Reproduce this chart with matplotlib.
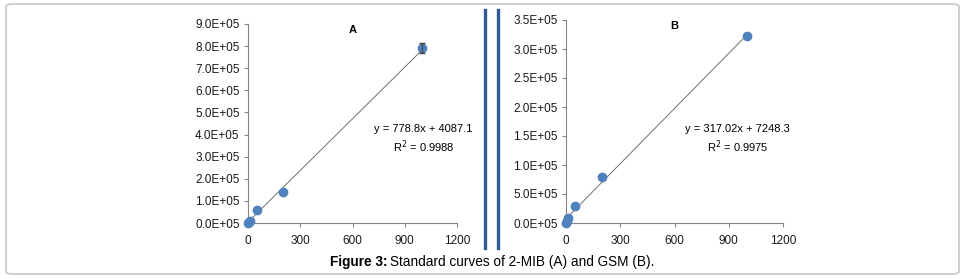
import matplotlib.pyplot as plt
import numpy as np
from matplotlib.patches import FancyBboxPatch

plt.rcParams["font.family"] = ["Liberation Sans", "DejaVu Sans"]

# panel A: 2-MIB
conc_a = [0, 5, 10, 50, 200, 1000]
area_a = [2000, 4000, 8000, 60000, 140000, 790000]
err_a = [0, 0, 0, 0, 0, 22000]
fit_a = [778.8, 4087.1]
r2_a = 0.9988
yticks_a = [0, 1e5, 2e5, 3e5, 4e5, 5e5, 6e5, 7e5, 8e5, 9e5]
ylabels_a = ["0.0E+05", "1.0E+05", "2.0E+05", "3.0E+05", "4.0E+05",
             "5.0E+05", "6.0E+05", "7.0E+05", "8.0E+05", "9.0E+05"]

# panel B: GSM (label for 50000 reads 5.0E+05 in the original)
conc_b = [0, 5, 10, 50, 200, 1000]
area_b = [0, 3000, 8000, 30000, 80000, 322000]
fit_b = [317.02, 7248.3]
r2_b = 0.9975
yticks_b = [0, 0.5e5, 1e5, 1.5e5, 2e5, 2.5e5, 3e5, 3.5e5]
ylabels_b = ["0.0E+05", "5.0E+05", "1.0E+05", "1.5E+05", "2.0E+05",
             "2.5E+05", "3.0E+05", "3.5E+05"]

xticks = [0, 300, 600, 900, 1200]
dot_color = "#4F81BD"
axis_gray = "#868686"

W, H = 966, 279
fig = plt.figure(figsize=(W / 100, H / 100), dpi=100)


def px_axes(x0, x1, ytop, ybot):
    return fig.add_axes([x0 / W, 1 - ybot / H, (x1 - x0) / W, (ybot - ytop) / H])


def style(ax, yticks, ylabels):
    ax.set_xlim(0, 1200)
    ax.set_ylim(0, yticks[-1])
    ax.set_xticks(xticks)
    ax.set_xticklabels([str(t) for t in xticks])
    ax.set_yticks(yticks)
    ax.set_yticklabels(ylabels)
    for s in ["top", "right"]:
        ax.spines[s].set_visible(False)
    for s in ["left", "bottom"]:
        ax.spines[s].set_color(axis_gray)
        ax.spines[s].set_linewidth(0.8)
    ax.tick_params(colors=axis_gray, labelcolor="#1a1a1a", labelsize=8.5,
                   length=3, width=0.8, pad=3)
    ax.tick_params(axis="x", pad=6)
    ax.patch.set_alpha(0)


def panel(ax, x, y, fit, r2, label, eq_xy, err=None):
    xs = np.array([0, 1000])
    ax.plot(xs, fit[0] * xs + fit[1], color="#707070", lw=0.7, zorder=3)
    ax.plot(x, y, "o", color=dot_color, ms=6, mec=dot_color, clip_on=False, zorder=4)
    if err is not None:
        e = np.array(err)
        keep = e > 0
        ax.errorbar(np.array(x)[keep], np.array(y)[keep], yerr=e[keep], fmt="none",
                    ecolor="#404040", elinewidth=0.8, capsize=2.5, capthick=1.0,
                    zorder=5)
    ax.text(0.5, 0.97, label, transform=ax.transAxes, ha="center", va="center",
            fontsize=8, fontweight="bold")
    ax.text(eq_xy[0], eq_xy[1], f"y = {fit[0]}x + {fit[1]}\nR$^2$ = {r2}",
            transform=ax.transAxes, ha="center", va="center", fontsize=8,
            linespacing=1.35)


ax_a = px_axes(248, 457, 24, 223)
style(ax_a, yticks_a, ylabels_a)
panel(ax_a, conc_a, area_a, fit_a, r2_a, "A", (0.84, 0.42), err_a)

ax_b = px_axes(566, 783, 20, 223)
style(ax_b, yticks_b, ylabels_b)
panel(ax_b, conc_b, area_b, fit_b, r2_b, "B", (0.79, 0.41))

# rounded frame
frame = FancyBboxPatch((6 / W, 5 / H), 953 / W, 270 / H,
                       boxstyle="round,pad=0,rounding_size=0.008",
                       transform=fig.transFigure, fill=False,
                       edgecolor="#c8c8c8", lw=1.2)
fig.patches.append(frame)

# separator lines between the panels
for xp in [485, 498]:
    fig.add_artist(plt.Line2D([xp / W, xp / W], [1 - 10 / H, 1 - 248 / H],
                              transform=fig.transFigure, color="#2E5C94", lw=2.4))

# caption: bold lead-in, then normal text
fig.text(387 / W, 1 - 262 / H, "Figure 3:", ha="right", va="center",
         fontsize=9.8, fontweight="bold")
fig.text(390 / W, 1 - 262 / H, "Standard curves of 2-MIB (A) and GSM (B).",
         ha="left", va="center", fontsize=9.8)

fig.savefig("out.png", dpi=100)
